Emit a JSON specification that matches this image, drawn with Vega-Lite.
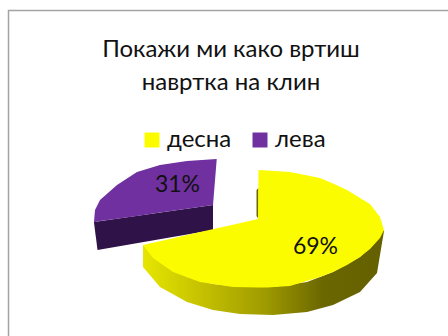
{
  "$schema": "https://vega.github.io/schema/vega-lite/v6.json",
  "width": 448,
  "height": 336,
  "padding": 0,
  "autosize": "none",
  "background": "white",
  "view": {"stroke": null},
  "title": {
    "text": ["Покажи ми како вртиш", "навртка на клин"],
    "anchor": "middle",
    "frame": "group",
    "baseline": "alphabetic",
    "offset": -114,
    "dx": 7,
    "font": "Lato",
    "fontSize": 24,
    "fontWeight": "normal",
    "lineHeight": 33,
    "color": "#111111"
  },
  "datasets": {
    "frameTop": [{"x": 8, "x2": 448, "y": 10.5}],
    "frameLeft": [{"x": 8.5, "y": 10, "y2": 336}],
    "faces": [
      {"slice": "лева", "x": 94, "y": 222, "y2": 222},
      {"slice": "лева", "x": 95, "y": 210, "y2": 221.9},
      {"slice": "лева", "x": 100, "y": 200, "y2": 221.1},
      {"slice": "лева", "x": 117, "y": 185, "y2": 218.7},
      {"slice": "лева", "x": 137, "y": 172, "y2": 215.9},
      {"slice": "лева", "x": 160, "y": 165, "y2": 212.6},
      {"slice": "лева", "x": 187, "y": 161, "y2": 208.7},
      {"slice": "лева", "x": 213, "y": 159.3, "y2": 205},
      {"slice": "лева", "x": 216.7, "y": 159, "y2": 159.5},
      {"slice": "десна", "x": 143, "y": 245, "y2": 245},
      {"slice": "десна", "x": 153, "y": 242.7, "y2": 258},
      {"slice": "десна", "x": 173, "y": 238.2, "y2": 272},
      {"slice": "десна", "x": 200, "y": 232.1, "y2": 282},
      {"slice": "десна", "x": 233, "y": 224.7, "y2": 287},
      {"slice": "десна", "x": 258, "y": 219, "y2": 287.5},
      {"slice": "десна", "x": 258.5, "y": 170, "y2": 287.5},
      {"slice": "десна", "x": 267, "y": 170.5, "y2": 287.5},
      {"slice": "десна", "x": 290, "y": 172, "y2": 286},
      {"slice": "десна", "x": 300, "y": 174, "y2": 283},
      {"slice": "десна", "x": 320, "y": 178, "y2": 277},
      {"slice": "десна", "x": 333, "y": 183.5, "y2": 272},
      {"slice": "десна", "x": 347, "y": 190, "y2": 265},
      {"slice": "десна", "x": 360, "y": 198, "y2": 257},
      {"slice": "десна", "x": 370, "y": 204, "y2": 249},
      {"slice": "десна", "x": 380, "y": 217, "y2": 238},
      {"slice": "десна", "x": 384, "y": 230, "y2": 230}
    ],
    "purpleWall": [
      {"x": 94, "y": 222, "y2": 222.5},
      {"x": 97.5, "y": 221.5, "y2": 250},
      {"x": 213, "y": 205, "y2": 230}
    ],
    "yellowWall": [
      {"x": 143, "y": 245, "y2": 267},
      {"x": 160, "y": 262, "y2": 287},
      {"x": 187, "y": 277, "y2": 302},
      {"x": 213, "y": 284, "y2": 310},
      {"x": 240, "y": 287, "y2": 314},
      {"x": 273, "y": 287, "y2": 315},
      {"x": 307, "y": 282, "y2": 312},
      {"x": 333, "y": 272, "y2": 305},
      {"x": 360, "y": 257, "y2": 292},
      {"x": 377, "y": 240, "y2": 273},
      {"x": 382, "y": 232, "y2": 243},
      {"x": 384, "y": 230, "y2": 231}
    ],
    "innerWall": [
      {"x": 256.5, "y": 190, "y2": 216},
      {"x": 258.5, "y": 188, "y2": 219}
    ],
    "shares": [
      {"slice": "десна", "share": 0.69, "x": 315.5, "y": 247},
      {"slice": "лева", "share": 0.31, "x": 177.5, "y": 185}
    ]
  },
  "encoding": {
    "x": {"field": "x", "type": "quantitative", "scale": {"domain": [0, 448], "nice": false, "zero": false}, "axis": null},
    "y": {"field": "y", "type": "quantitative", "scale": {"domain": [336, 0], "nice": false, "zero": false}, "axis": null}
  },
  "layer": [
    {
      "data": {"name": "frameTop"},
      "mark": {"type": "rule", "color": "#a3a3a3", "strokeWidth": 1.5},
      "encoding": {"x2": {"field": "x2"}}
    },
    {
      "data": {"name": "frameLeft"},
      "mark": {"type": "rule", "color": "#a3a3a3", "strokeWidth": 1.5},
      "encoding": {"y2": {"field": "y2"}}
    },
    {
      "data": {"name": "purpleWall"},
      "mark": {"type": "area", "color": "#2e1248", "orient": "vertical"},
      "encoding": {"y2": {"field": "y2"}}
    },
    {
      "data": {"name": "yellowWall"},
      "mark": {
        "type": "area",
        "orient": "vertical",
        "color": {
          "gradient": "linear",
          "x1": 0, "y1": 0, "x2": 1, "y2": 0,
          "stops": [
            {"offset": 0, "color": "#e6e600"},
            {"offset": 0.25, "color": "#c4c000"},
            {"offset": 0.5, "color": "#a09c00"},
            {"offset": 0.75, "color": "#6a6600"},
            {"offset": 1, "color": "#646000"}
          ]
        }
      },
      "encoding": {"y2": {"field": "y2"}}
    },
    {
      "data": {"name": "innerWall"},
      "mark": {"type": "area", "color": "#6e6a00", "orient": "vertical"},
      "encoding": {"y2": {"field": "y2"}}
    },
    {
      "data": {"name": "faces"},
      "mark": {"type": "area", "orient": "vertical"},
      "encoding": {
        "y2": {"field": "y2"},
        "color": {
          "field": "slice",
          "type": "nominal",
          "scale": {"domain": ["десна", "лева"], "range": ["#fcfc00", "#7030a0"]},
          "legend": {
            "orient": "none",
            "legendX": 140,
            "legendY": 128,
            "direction": "horizontal",
            "title": null,
            "symbolType": "square",
            "symbolSize": 225,
            "symbolStrokeWidth": 0,
            "labelFont": "Lato",
            "labelFontSize": 24,
            "labelColor": "#111111",
            "labelOffset": 3,
            "columnPadding": 16
          }
        }
      }
    },
    {
      "data": {"name": "shares"},
      "mark": {"type": "text", "font": "Lato", "fontSize": 23, "color": "#111111", "align": "center", "baseline": "middle"},
      "encoding": {
        "text": {"field": "share", "type": "quantitative", "format": ".0%"}
      }
    }
  ]
}
